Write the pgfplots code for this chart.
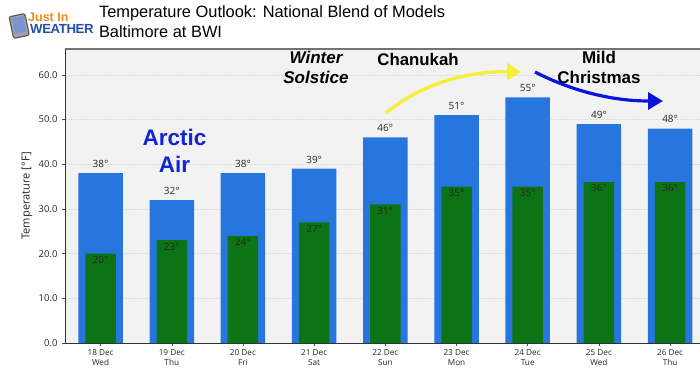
\documentclass[border=0pt]{standalone}
\usepackage{pgfplots}
\pgfplotsset{compat=1.18}
\usepackage{fontspec}
\setmainfont{Liberation Sans}
\newfontfamily\tickfont{Open Sans}
\usetikzlibrary{arrows.meta}
\definecolor{bluebar}{HTML}{2776E0}
\definecolor{greenbar}{HTML}{0C7415}
\definecolor{bg}{HTML}{F2F2F3}
\definecolor{annblue}{HTML}{0F25D8}
\definecolor{arrowblue}{HTML}{0A14DC}
\definecolor{arrowyellow}{HTML}{F4F03A}
\definecolor{logoorange}{HTML}{F08A1D}
\definecolor{logoblue}{HTML}{1F4FA8}
\begin{document}
\begin{tikzpicture}[x=1pt,y=1pt]
\path[use as bounding box] (0,0) rectangle (700,375);
\begin{axis}[
  at={(65pt,32pt)}, anchor=south west, name=main,
  scale only axis, width=635pt, height=294pt,
  xmin=-0.5, xmax=8.42, ymin=0, ymax=65.8,
  axis background/.style={fill=bg},
  axis line style={draw=none},
  ymajorgrids, major grid style={draw=black!14, dash pattern=on 2pt off 1pt, line width=0.5pt},
  xtick={0,...,8},
  xticklabels={18 Dec\\Wed,19 Dec\\Thu,20 Dec\\Fri,21 Dec\\Sat,22 Dec\\Sun,23 Dec\\Mon,24 Dec\\Tue,25 Dec\\Wed,26 Dec\\Thu},
  xticklabel style={align=center, font=\tickfont\fontsize{8.2}{10}\selectfont, text=black!85},
  ytick={0,10,...,60},
  yticklabel style={font=\tickfont\fontsize{9.5}{10}\selectfont, text=black!85, xshift=-1pt},
  /pgf/number format/assume math mode=true,
  /pgf/number format/fixed, /pgf/number format/fixed zerofill, /pgf/number format/precision=1,
  ylabel={Temperature [°F]}, ylabel style={font=\tickfont\fontsize{11.1}{12}\selectfont, text=black!85, yshift=-0.5pt},
  tick style={draw=black!70, line width=0.5pt}, tick align=outside, major tick length=3pt,
  xtick pos=bottom, ytick pos=left,
  clip=false,
]
\addplot[ybar, bar width=44.5pt, bar shift=0pt, fill=bluebar, draw=none,
  nodes near coords={\pgfmathprintnumber[fixed,precision=0]{\pgfplotspointmeta}°},
  every node near coord/.style={font=\tickfont\fontsize{10}{11}\selectfont, text=black!85, anchor=south, yshift=2pt}]
  coordinates {(0,38)(1,32)(2,38)(3,39)(4,46)(5,51)(6,55)(7,49)(8,48)};
\addplot[ybar, bar width=30.5pt, bar shift=0pt, fill=greenbar, draw=none,
  nodes near coords={\pgfmathprintnumber[fixed,precision=0]{\pgfplotspointmeta}°},
  every node near coord/.style={font=\tickfont\fontsize{10}{11}\selectfont, text=black!85, anchor=north, yshift=1pt}]
  coordinates {(0,20)(1,23)(2,24)(3,27)(4,31)(5,35)(6,35)(7,36)(8,36)};
\end{axis}
% axis frame
\draw[black!55, line width=1.1pt] (65,326) -- (700,326);
\draw[black!80, line width=0.6pt] (65,326) -- (65,32) -- (700,32);
% annotations
\node[font=\bfseries\fontsize{22.5}{27}\selectfont, text=annblue, align=center] at (174.5,224) {Arctic\\Air};
\node[font=\bfseries\itshape\fontsize{17}{20}\selectfont, text=black, align=center] at (316,308) {Winter\\Solstice};
\node[font=\bfseries\fontsize{16.8}{18}\selectfont, text=black] at (418,316) {Chanukah};
\node[font=\bfseries\fontsize{17}{20}\selectfont, text=black, align=center] at (599,308) {Mild\\Christmas};
\draw[arrowyellow, line width=3.4pt, -{Triangle[length=14pt,width=17pt]}] (386,262) .. controls (420,290) and (465,304) .. (521,303);
\draw[arrowblue, line width=3.2pt, -{Triangle[length=15pt,width=17pt]}] (535,303) .. controls (570,285) and (610,274) .. (663,274);
% title
\node[anchor=west, font=\fontsize{16.4}{19}\selectfont, text=black, align=left] at (95.5,361.5) {Temperature Outlook: National Blend of Models};
\node[anchor=west, font=\fontsize{16.4}{19}\selectfont, text=black, align=left] at (95.5,343) {Baltimore at BWI};
% logo
\draw[black!65, fill=black!35, rounded corners=2pt, line width=1.2pt, rotate around={12:(19,350)}] (11,338) rectangle (27,360);
\fill[logoblue!60, rotate around={12:(19,350)}] (13,342) rectangle (25,358);
\node[anchor=west, font=\bfseries\fontsize{12.5}{13}\selectfont, text=logoorange, inner sep=0] at (28,357.5) {Just In};
\node[anchor=west, font=\bfseries\fontsize{13.2}{14}\selectfont, text=logoblue, inner sep=0] at (30,346) {\addfontfeature{LetterSpace=-3}WEATHER};
\end{tikzpicture}
\end{document}
